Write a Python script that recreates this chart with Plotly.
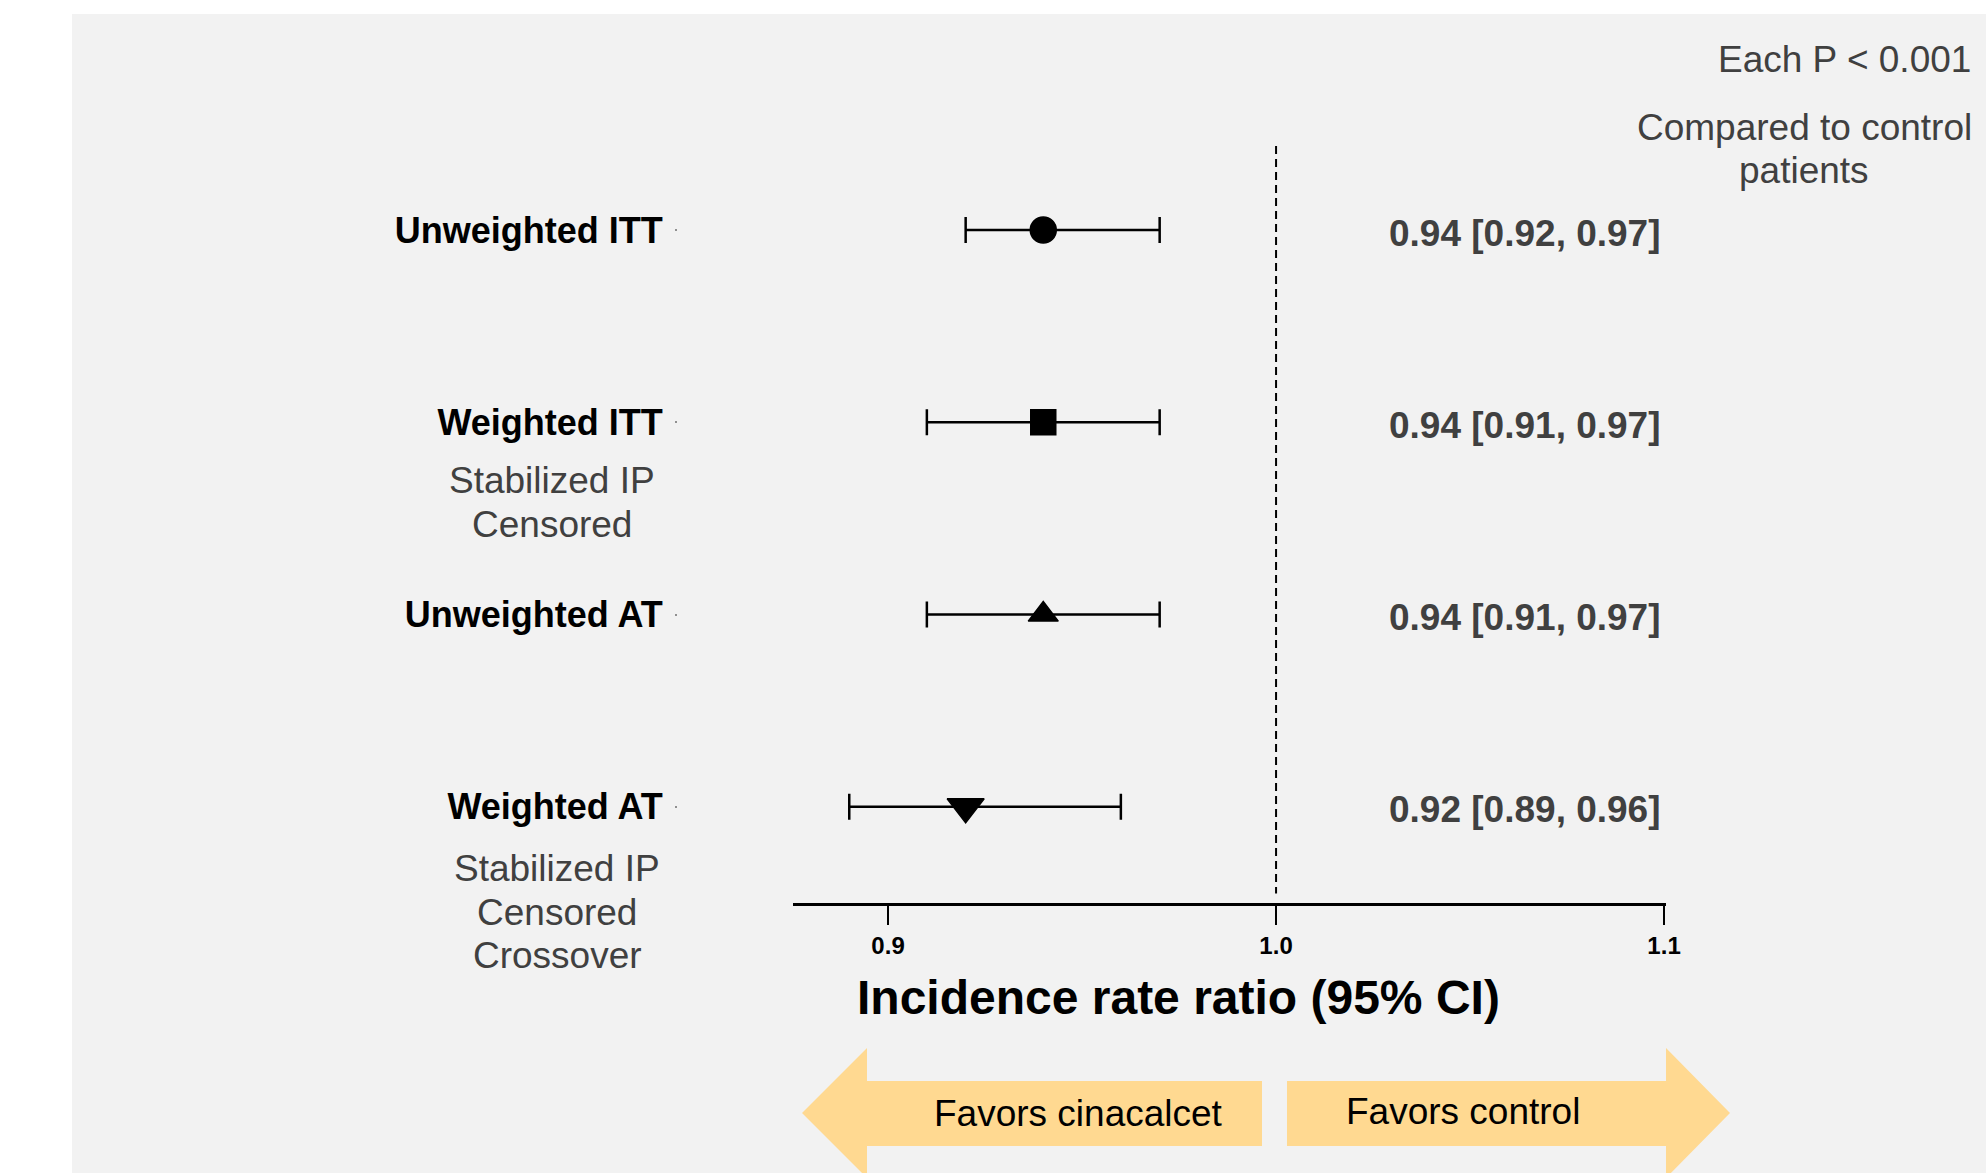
import plotly.graph_objects as go

# ---------------- data ----------------
labels = ["Unweighted ITT", "Weighted ITT", "Unweighted AT", "Weighted AT"]
sublabels = [[], ["Stabilized IP", "Censored"], [], ["Stabilized IP", "Censored", "Crossover"]]
estimate = [0.94, 0.94, 0.94, 0.92]
ci_low = [0.92, 0.91, 0.91, 0.89]
ci_high = [0.97, 0.97, 0.97, 0.96]
symbols = ["circle", "square", "triangle-up", "triangle-down"]
marker_sizes = [26, 25, 26, 32]
x_ticks = [0.9, 1.0, 1.1]
x_ticktext = ["0.9", "1.0", "1.1"]
x_title = "Incidence rate ratio (95% CI)"
note_p = "Each P < 0.001"
note_cmp = ["Compared to control", "patients"]
favors = ["Favors cinacalcet", "Favors control"]

# ---------------- layout helpers (pixel -> paper) ----------------
W, H = 1986, 1173
L, R, T, B = 72, 1666, 57, 903


def px_x(px):
    return (px - L) / (R - L)


def px_y(py):
    return (B - py) / (B - T)


FONT = "Liberation Sans, Arial, sans-serif"
GRAY_TXT = "#404040"
BG = "#f2f2f2"
ARROW = "#FFD991"

rows = list(range(len(labels)))

fig = go.Figure()

for i in rows:
    fig.add_trace(go.Scatter(
        x=[estimate[i]], y=[rows[i]],
        mode="markers",
        marker=dict(symbol=symbols[i], size=marker_sizes[i], color="black",
                    line=dict(color="black", width=1.5)),
        error_x=dict(type="data", symmetric=False,
                     array=[ci_high[i] - estimate[i]],
                     arrayminus=[estimate[i] - ci_low[i]],
                     color="black", thickness=2.5, width=13),
        showlegend=False, hoverinfo="skip",
    ))

shapes = []
# gray panel
shapes.append(dict(type="rect", xref="paper", yref="paper",
                   x0=px_x(72), x1=px_x(W + 20), y0=px_y(H + 20), y1=px_y(14),
                   fillcolor=BG, line=dict(width=0), layer="below"))
# reference line at 1.0
shapes.append(dict(type="line", xref="x", yref="y", x0=1.0, x1=1.0, y0=-0.437, y1=3.45,
                   line=dict(color="black", width=2, dash="8px,5px")))


def poly(points):
    s = "M " + " L ".join(f"{px_x(a):.5f},{px_y(b):.5f}" for a, b in points) + " Z"
    return s


left_arrow = [(802, 1113), (867, 1048), (867, 1081), (1262, 1081), (1262, 1146), (867, 1146), (867, 1178)]
right_arrow = [(1287, 1081), (1666, 1081), (1666, 1048), (1730, 1113), (1666, 1178), (1666, 1146), (1287, 1146)]
for pts in (left_arrow, right_arrow):
    shapes.append(dict(type="path", xref="paper", yref="paper", path=poly(pts),
                       fillcolor=ARROW, line=dict(width=0), layer="below"))

ann = []
# CI value texts
for i in rows:
    ann.append(dict(xref="x", yref="y", x=1.0998, y=rows[i], yshift=-3,
                    text=f"<b>{estimate[i]:.2f} [{ci_low[i]:.2f}, {ci_high[i]:.2f}]</b>",
                    xanchor="right", yanchor="middle", showarrow=False,
                    font=dict(family=FONT, size=37, color=GRAY_TXT)))
# sub labels under row labels
sub_center = {1: 552, 3: 557}
sub_first = {1: 480, 3: 868}
for i in rows:
    for k, line in enumerate(sublabels[i]):
        ann.append(dict(xref="paper", yref="paper", x=px_x(sub_center[i]),
                        y=px_y(sub_first[i] + 44 * k),
                        text=line, xanchor="center", yanchor="middle", showarrow=False,
                        font=dict(family=FONT, size=37, color=GRAY_TXT)))
# x-axis title
ann.append(dict(xref="paper", yref="paper", x=px_x(1178), y=px_y(998), text=f"<b>{x_title}</b>",
                xanchor="center", yanchor="middle", showarrow=False,
                font=dict(family=FONT, size=48, color="black")))
# top-right notes
ann.append(dict(xref="paper", yref="paper", x=px_x(1844), y=px_y(60), text=note_p,
                xanchor="center", yanchor="middle", showarrow=False,
                font=dict(family=FONT, size=37, color=GRAY_TXT)))
for k, line in enumerate(note_cmp):
    ann.append(dict(xref="paper", yref="paper", x=px_x(1804), y=px_y(127 + 44 * k), text=line,
                    xanchor="center", yanchor="middle", showarrow=False,
                    font=dict(family=FONT, size=37, color=GRAY_TXT)))
# arrow texts
ann.append(dict(xref="paper", yref="paper", x=px_x(1078), y=px_y(1113), text=favors[0],
                xanchor="center", yanchor="middle", showarrow=False,
                font=dict(family=FONT, size=37, color="black")))
ann.append(dict(xref="paper", yref="paper", x=px_x(1463), y=px_y(1111), text=favors[1],
                xanchor="center", yanchor="middle", showarrow=False,
                font=dict(family=FONT, size=37, color="black")))

fig.update_layout(
    width=W, height=H,
    margin=dict(l=L, r=W - R, t=T, b=H - B, pad=0),
    paper_bgcolor="white", plot_bgcolor="rgba(0,0,0,0)",
    shapes=shapes, annotations=ann,
    xaxis=dict(domain=[px_x(793), 1], range=[0.8755, 1.1005], anchor="y",
               tickvals=x_ticks, ticktext=[f"<b>{t}</b>" for t in x_ticktext],
               tickfont=dict(family=FONT, size=24, color="black"),
               ticks="outside", ticklen=19, tickwidth=2, tickcolor="black",
               showline=True, linewidth=2.5, linecolor="black",
               showgrid=False, zeroline=False, fixedrange=True),
    yaxis=dict(domain=[0, 1], range=[3.5, -0.9], anchor="free", position=px_x(677),
               tickvals=rows, ticktext=[f"<b>{t}</b>" for t in labels],
               tickfont=dict(family=FONT, size=36, color="black"),
               ticks="outside", ticklen=2, tickwidth=2, tickcolor="#909090",
               ticklabelstandoff=5,
               showline=False, showgrid=False, zeroline=False, fixedrange=True),
    font=dict(family=FONT),
)

fig.write_html("out.html", config={"displayModeBar": False},
               post_script="document.body.style.margin='0';")
